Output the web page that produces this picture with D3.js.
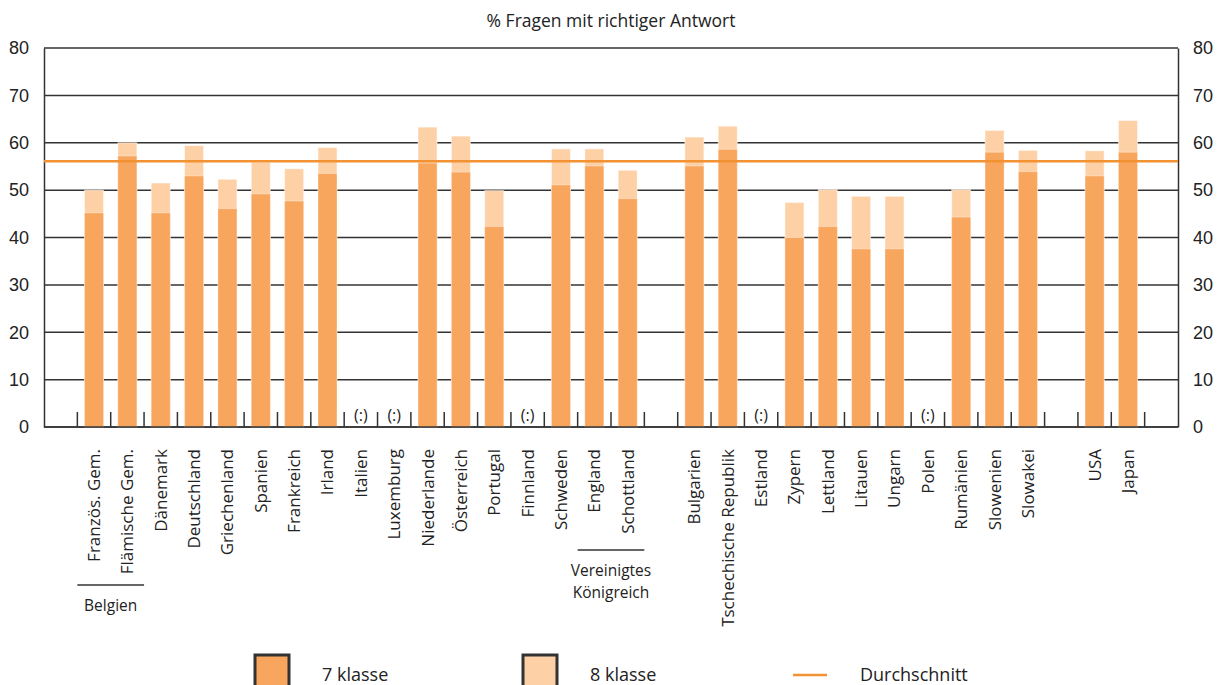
<!DOCTYPE html>
<html>
<head>
<meta charset="utf-8">
<script src="https://cdn.jsdelivr.net/npm/d3@7/dist/d3.min.js"></script>
<style>
  html, body { margin: 0; padding: 0; background: #fff; }
  svg { display: block; }
  text { fill: #222; }
</style>
</head>
<body>
<svg id="chart" width="1227" height="685"></svg>
<script>
// Slots along the x axis; empty strings are spacer slots between groups.
const categories = [
  "", "Französ. Gem.", "Flämische Gem.", "Dänemark", "Deutschland", "Griechenland",
  "Spanien", "Frankreich", "Irland", "Italien", "Luxemburg", "Niederlande",
  "Österreich", "Portugal", "Finnland", "Schweden", "England", "Schottland", "",
  "Bulgarien", "Tschechische Republik", "Estland", "Zypern", "Lettland", "Litauen",
  "Ungarn", "Polen", "Rumänien", "Slowenien", "Slowakei", "", "USA", "Japan", ""
];

// % of questions answered correctly, 7th grade (null = no data)
const grade7 = [
  null, 45.2, 57.2, 45.2, 53.0, 46.1,
  49.2, 47.7, 53.5, null, null, 55.7,
  53.8, 42.3, null, 51.1, 55.1, 48.2, null,
  55.1, 58.6, null, 40.0, 42.3, 37.6,
  37.6, null, 44.3, 58.0, 53.9, null, 53.0, 58.0, null
];

// % of questions answered correctly, 8th grade (null = no data)
const grade8 = [
  null, 50.0, 60.0, 51.5, 59.4, 52.3,
  55.9, 54.5, 59.0, null, null, 63.3,
  61.4, 49.9, null, 58.7, 58.7, 54.2, null,
  61.2, 63.5, null, 47.4, 50.1, 48.7,
  48.7, null, 50.1, 62.6, 58.4, null, 58.3, 64.7, null
];

const average = 56.1;

const yTicks = [0, 10, 20, 30, 40, 50, 60, 70, 80];

const legendLabels = ["7 klasse", "8 klasse", "Durchschnitt"];
const titleText = "% Fragen mit richtiger Antwort";
const missingText = "(:)";

// Group brackets under the category labels: first and last slot of each group
const groups = [
  { lines: ["Belgien"], from: 1, to: 2 },
  { lines: ["Vereinigtes", "Königreich"], from: 16, to: 17 }
];

const colDark = "#f8a55e";
const colLight = "#fdd0a6";
const colAvg = "#f39233";
const colGrid = "#333";

const svg = d3.select("#chart");
const plotLeft = 44, plotRight = 1178, plotTop = 48, plotBottom = 427;

const x = d3.scaleBand()
  .domain(d3.range(categories.length))
  .range([plotLeft, plotRight])
  .paddingInner(0.43)
  .paddingOuter(0.215);

const y = d3.scaleLinear().domain([0, 80]).range([plotBottom, plotTop]);

const step = x.step();
const slotStart = i => x(i) - x.paddingInner() * step / 2;

// Title
svg.append("text")
  .attr("x", (plotLeft + plotRight) / 2)
  .attr("y", 27)
  .attr("text-anchor", "middle")
  .style("font-family", "'Open Sans', sans-serif")
  .style("font-size", "17.5px")
  .text(titleText);

// Horizontal grid lines
svg.append("g").selectAll("line")
  .data(yTicks)
  .join("line")
  .attr("x1", plotLeft).attr("x2", plotRight)
  .attr("y1", d => y(d)).attr("y2", d => y(d))
  .attr("stroke", colGrid)
  .attr("stroke-width", 1.5);

// Y axes, left and right
const axisFont = "'Liberation Sans', Arial, sans-serif";
const yLeft = svg.append("g")
  .attr("transform", `translate(${plotLeft},0)`)
  .call(d3.axisLeft(y).tickValues(yTicks).tickSize(0).tickPadding(15));
const yRight = svg.append("g")
  .attr("transform", `translate(${plotRight},0)`)
  .call(d3.axisRight(y).tickValues(yTicks).tickSize(0).tickPadding(15));
[yLeft, yRight].forEach(g => {
  g.select(".domain").attr("stroke", colGrid).attr("stroke-width", 1.5);
  g.selectAll("text")
    .style("font-family", axisFont)
    .style("font-size", "18px")
    .attr("fill", "#222");
});

// Small ticks at slot boundaries along the baseline
const boundaries = d3.range(1, categories.length);
svg.append("g").selectAll("line")
  .data(boundaries)
  .join("line")
  .attr("x1", i => slotStart(i)).attr("x2", i => slotStart(i))
  .attr("y1", plotBottom).attr("y2", plotBottom - 15)
  .attr("stroke", colGrid)
  .attr("stroke-width", 1.5);

// Bars: 8th grade behind, 7th grade in front
const idx = d3.range(categories.length);
svg.append("g").selectAll("rect")
  .data(idx.filter(i => grade8[i] != null))
  .join("rect")
  .attr("x", i => x(i))
  .attr("width", x.bandwidth())
  .attr("y", i => y(grade8[i]))
  .attr("height", i => y(0) - y(grade8[i]))
  .attr("fill", colLight)
  .attr("stroke", "#fff")
  .attr("stroke-opacity", 0.5)
  .attr("stroke-width", 1);

svg.append("g").selectAll("rect")
  .data(idx.filter(i => grade7[i] != null))
  .join("rect")
  .attr("x", i => x(i))
  .attr("width", x.bandwidth())
  .attr("y", i => y(grade7[i]))
  .attr("height", i => y(0) - y(grade7[i]))
  .attr("fill", colDark)
  .attr("stroke", "#fff")
  .attr("stroke-opacity", 0.35)
  .attr("stroke-width", 1);

// Baseline redrawn over the bars
svg.append("line")
  .attr("x1", plotLeft).attr("x2", plotRight)
  .attr("y1", y(0)).attr("y2", y(0))
  .attr("stroke", colGrid).attr("stroke-width", 1.5);

// Average line
svg.append("line")
  .attr("x1", plotLeft).attr("x2", plotRight)
  .attr("y1", y(average)).attr("y2", y(average))
  .attr("stroke", colAvg)
  .attr("stroke-width", 2.5);

// Markers for countries without data
svg.append("g").selectAll("text")
  .data(idx.filter(i => categories[i] !== "" && grade7[i] == null && grade8[i] == null))
  .join("text")
  .attr("x", i => x(i) + x.bandwidth() / 2)
  .attr("y", plotBottom - 6)
  .attr("text-anchor", "middle")
  .style("font-family", "'Open Sans', sans-serif")
  .style("font-size", "16px")
  .text(missingText);

// Rotated category labels
const labelFont = "'Open Sans', sans-serif";
svg.append("g").selectAll("text")
  .data(idx.filter(i => categories[i] !== ""))
  .join("text")
  .attr("transform", i => `translate(${x(i) + x.bandwidth() / 2},${plotBottom + 22}) rotate(-90)`)
  .attr("dy", "0.35em")
  .attr("text-anchor", "end")
  .style("font-family", labelFont)
  .style("font-size", "17px")
  .text(i => categories[i]);

// Group brackets
const groupY = [585, 550];
groups.forEach((g, k) => {
  const x1 = slotStart(g.from), x2 = slotStart(g.to + 1);
  svg.append("line")
    .attr("x1", x1).attr("x2", x2)
    .attr("y1", groupY[k]).attr("y2", groupY[k])
    .attr("stroke", colGrid).attr("stroke-width", 1.5);
  g.lines.forEach((t, j) => {
    svg.append("text")
      .attr("x", (x1 + x2) / 2)
      .attr("y", groupY[k] + 26 + j * 21.5)
      .attr("text-anchor", "middle")
      .style("font-family", labelFont)
      .style("font-size", "15.5px")
      .text(t);
  });
});

// Legend
const legend = svg.append("g");
const boxes = [
  { x: 255, fill: colDark, label: legendLabels[0], tx: 322 },
  { x: 523, fill: colLight, label: legendLabels[1], tx: 590 }
];
boxes.forEach(b => {
  legend.append("rect")
    .attr("x", b.x).attr("y", 655)
    .attr("width", 34).attr("height", 40)
    .attr("fill", b.fill)
    .attr("stroke", "#333").attr("stroke-width", 3);
  legend.append("text")
    .attr("x", b.tx).attr("y", 681)
    .style("font-family", labelFont)
    .style("font-size", "18px")
    .text(b.label);
});
legend.append("line")
  .attr("x1", 793).attr("x2", 827)
  .attr("y1", 675).attr("y2", 675)
  .attr("stroke", colAvg).attr("stroke-width", 2.5);
legend.append("text")
  .attr("x", 860).attr("y", 681)
  .style("font-family", labelFont)
  .style("font-size", "18px")
  .text(legendLabels[2]);
</script>
</body>
</html>
